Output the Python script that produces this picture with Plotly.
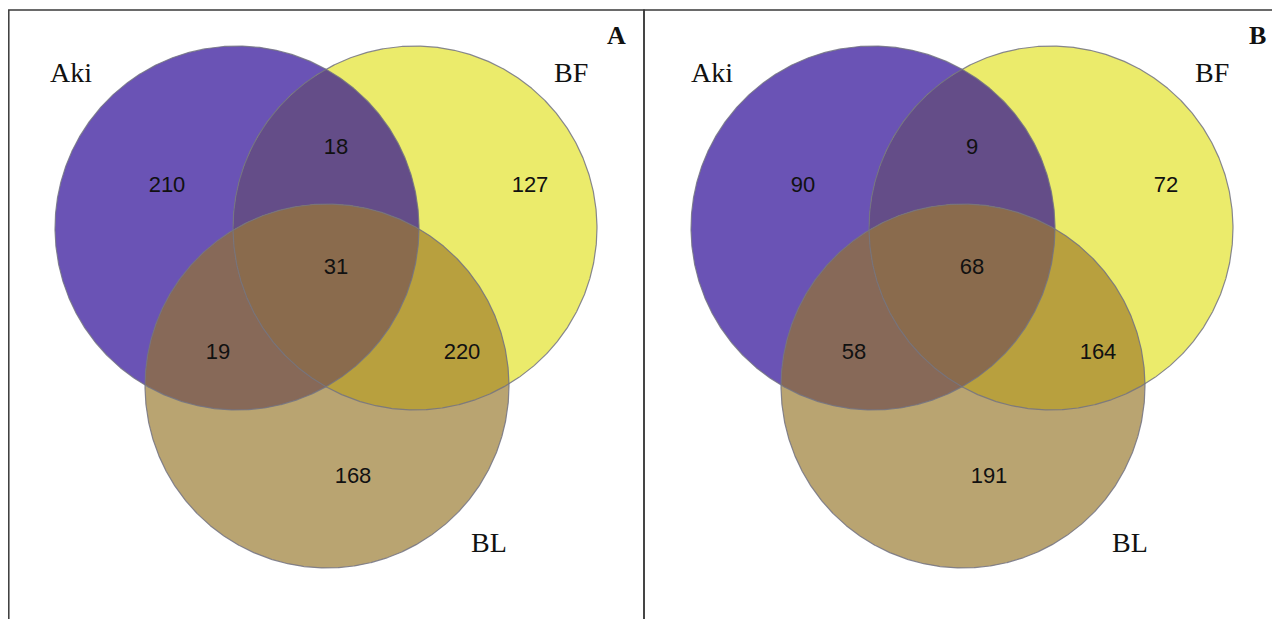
import numpy as np
import plotly.graph_objects as go

# ---------------- data ----------------
set_names = ["Aki", "BF", "BL"]
panel_names = ["A", "B"]
region_names = ["Aki only", "BF only", "BL only", "Aki∩BF", "Aki∩BL", "BF∩BL", "Aki∩BF∩BL"]
counts_A = [210, 127, 168, 18, 19, 220, 31]
counts_B = [90, 72, 191, 9, 58, 164, 68]
panel_counts = [counts_A, counts_B]

# ---------------- layout / style ----------------
W, H = 1280, 619
BODY = 8  # browser default body margin; figure is sized so data units == page pixels
R = 182
centers = {"Aki": (237, 228), "BF": (415, 228), "BL": (327, 386)}
panel_dx = [0, 636]
label_dx = [0, 641]
region_label_pos = [(167, 186), (530, 186), (353, 477), (336, 148), (218, 353), (462, 353), (336, 268)]
set_label_pos = {"Aki": (71, 72), "BF": (571, 72), "BL": (489, 542)}
panel_letter_pos = (616, 35)

col_single = {"Aki": "#6A53B5", "BF": "#EBEB6B", "BL": "#B9A471"}
col_pair = {("Aki", "BF"): "#644D88", ("Aki", "BL"): "#876958", ("BF", "BL"): "#B8A03E"}
col_all = "#8A6B4D"
outline = "rgba(115,115,130,0.85)"


def circle_pts(c, n=1440):
    t = np.linspace(0, 2 * np.pi, n, endpoint=False)
    return c[0] + R * np.cos(t), c[1] + R * np.sin(t)


def intersection(cs):
    xs, ys = [], []
    for i, c in enumerate(cs):
        x, y = circle_pts(c)
        m = np.ones_like(x, dtype=bool)
        for j, o in enumerate(cs):
            if j != i:
                m &= (x - o[0]) ** 2 + (y - o[1]) ** 2 <= R ** 2 + 1e-6
        xs.append(x[m]); ys.append(y[m])
    x = np.concatenate(xs); y = np.concatenate(ys)
    cx, cy = x.mean(), y.mean()
    order = np.argsort(np.arctan2(y - cy, x - cx))
    x, y = x[order], y[order]
    return np.append(x, x[0]), np.append(y, y[0])


fig = go.Figure()


def add_fill(x, y, color):
    fig.add_trace(go.Scatter(x=x, y=y, mode="lines", fill="toself", fillcolor=color,
                             line=dict(width=0), hoverinfo="skip", showlegend=False))


def closed(c):
    x, y = circle_pts(c)
    return np.append(x, x[0]), np.append(y, y[0])


for p, dx in enumerate(panel_dx):
    cc = {k: (v[0] + dx, v[1]) for k, v in centers.items()}
    add_fill(*closed(cc["Aki"]), col_single["Aki"])
    add_fill(*closed(cc["BF"]), col_single["BF"])
    add_fill(*intersection([cc["Aki"], cc["BF"]]), col_pair[("Aki", "BF")])
    add_fill(*closed(cc["BL"]), col_single["BL"])
    add_fill(*intersection([cc["Aki"], cc["BL"]]), col_pair[("Aki", "BL")])
    add_fill(*intersection([cc["BF"], cc["BL"]]), col_pair[("BF", "BL")])
    add_fill(*intersection([cc["Aki"], cc["BF"], cc["BL"]]), col_all)
    for s in set_names:
        x, y = closed(cc[s])
        fig.add_trace(go.Scatter(x=x, y=y, mode="lines",
                                 line=dict(color=outline, width=1.2), hoverinfo="skip", showlegend=False))
    fig.add_trace(go.Scatter(
        x=[q[0] + dx for q in region_label_pos], y=[q[1] for q in region_label_pos],
        mode="text", text=[str(v) for v in panel_counts[p]], textposition="middle center",
        textfont=dict(family="Liberation Sans, Arial", size=22, color="#111111"),
        hoverinfo="skip", showlegend=False))
    ldx = label_dx[p]
    for s in set_names:
        fig.add_annotation(x=set_label_pos[s][0] + ldx, y=set_label_pos[s][1], text=s, showarrow=False,
                           xanchor="center", yanchor="middle",
                           font=dict(family="Liberation Serif, Times New Roman", size=28, color="#111111"))
    fig.add_annotation(x=panel_letter_pos[0] + ldx, y=panel_letter_pos[1], text="<b>%s</b>" % panel_names[p],
                       showarrow=False, xanchor="center", yanchor="middle",
                       font=dict(family="Liberation Serif, Times New Roman", size=26, color="#111111"))

# panel borders
fig.add_shape(type="rect", x0=8.8, y0=10, x1=644, y1=700, line=dict(color="#3a3a3a", width=1.5), layer="above")
fig.add_shape(type="rect", x0=644, y0=10, x1=1276, y1=700, line=dict(color="#3a3a3a", width=1.5), layer="above")

fig.update_layout(
    width=W - BODY, height=H - BODY, margin=dict(l=0, r=0, t=0, b=0),
    paper_bgcolor="white", plot_bgcolor="white",
    xaxis=dict(range=[BODY, W], visible=False, fixedrange=True),
    yaxis=dict(range=[H, BODY], visible=False, fixedrange=True),
)
fig.write_html("out.html")
